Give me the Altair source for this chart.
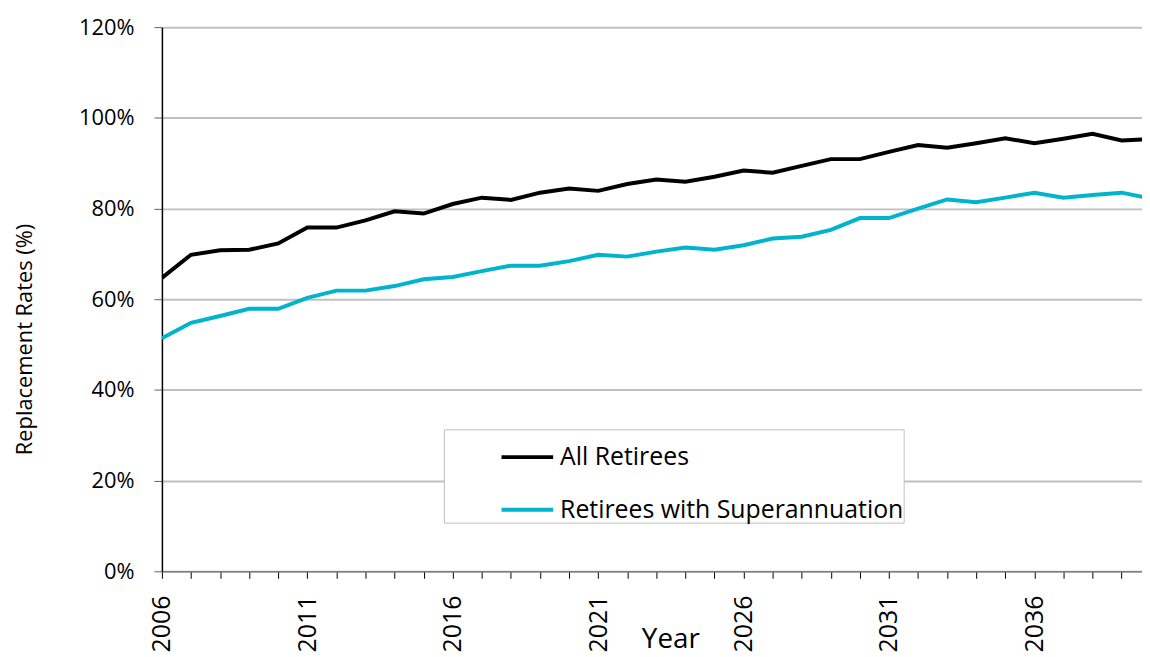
import altair as alt
import pandas as pd

years = list(range(2006, 2041))
all_retirees = [64.7, 69.8, 70.8, 70.9, 72.3, 75.8, 75.8, 77.4, 79.4, 78.9,
                81.0, 82.4, 81.9, 83.5, 84.4, 83.9, 85.4, 86.4, 85.9, 87.0,
                88.4, 87.9, 89.4, 90.9, 90.9, 92.5, 94.0, 93.4, 94.4, 95.5,
                94.4, 95.4, 96.5, 95.0, 95.3]
with_super = [51.4, 54.8, 56.3, 57.9, 57.9, 60.3, 61.9, 61.9, 62.9, 64.4,
              64.9, 66.2, 67.4, 67.4, 68.4, 69.8, 69.4, 70.5, 71.4, 70.9,
              71.9, 73.4, 73.8, 75.3, 77.9, 77.9, 80.0, 82.0, 81.4, 82.4,
              83.5, 82.4, 83.0, 83.5, 82.2]
series_names = ["All Retirees", "Retirees with Superannuation"]
series_colors = ["#000000", "#00B4CE"]
y_ticks = [0, 0.2, 0.4, 0.6, 0.8, 1.0, 1.2]

rows = []
for name, vals in zip(series_names, [all_retirees, with_super]):
    for yr, v in zip(years, vals):
        rows.append({"Year": yr, "Rate": v / 100.0, "Series": name})
df = pd.DataFrame(rows)

font = "Open Sans"

chart = alt.Chart(df).mark_line(strokeWidth=4, clip=True).encode(
    x=alt.X("Year:Q",
            scale=alt.Scale(domain=[2006, 2039.7], nice=False, zero=False),
            axis=alt.Axis(
                values=list(range(2006, 2040)),
                labelExpr="(datum.value - 2006) % 5 == 0 ? format(datum.value, 'd') : ''",
                labelAngle=270, labelAlign="right", labelBaseline="middle",
                labelFontSize=25, labelFont=font, labelColor="#000000",
                labelPadding=17, labelOverlap=False, labelFlush=False,
                tickSize=7, tickColor="#000000", tickWidth=1,
                domainColor="#808080", domainWidth=1.5,
                grid=False,
                title="Year", titleFont=font, titleFontSize=28, titleFontWeight="normal",
                titleColor="#000000", titleX=512, titleY=77,
                titleAlign="center", titleBaseline="alphabetic")),
    y=alt.Y("Rate:Q",
            scale=alt.Scale(domain=[0, 1.2], nice=False),
            axis=alt.Axis(
                values=y_ticks, format=".0%",
                labelFontSize=22, labelFont=font, labelColor="#000000",
                labelPadding=20,
                tickSize=8, tickColor="#606060", tickWidth=1,
                domainColor="#000000", domainWidth=1.5,
                grid=True, gridColor="#C0C0C0", gridWidth=2,
                title="Replacement Rates (%)", titleFont=font, titleFontSize=22,
                titleFontWeight="normal", titleColor="#000000",
                titleX=-138, titleY=314, titleAngle=270,
                titleAlign="center", titleBaseline="middle")),
    color=alt.Color("Series:N",
                    scale=alt.Scale(domain=series_names, range=series_colors),
                    legend=alt.Legend(
                        orient="none", legendX=284, legendY=405,
                        title=None, symbolType="stroke", symbolStrokeWidth=4,
                        symbolSize=2704, symbolOffset=56,
                        labelFont=font, labelFontSize=25, labelColor="#000000",
                        labelLimit=1000, labelOffset=5,
                        rowPadding=12, padding=0,
                        strokeColor="#C0C0C0", fillColor="#FFFFFF")),
).properties(
    width=987, height=548,
    autosize=alt.AutoSizeParams(type="none"),
    padding={"left": 155, "top": 17, "right": 0, "bottom": 84},
).configure_view(stroke=None)

chart.save("out.html", embed_options={"renderer": "svg", "actions": False})
